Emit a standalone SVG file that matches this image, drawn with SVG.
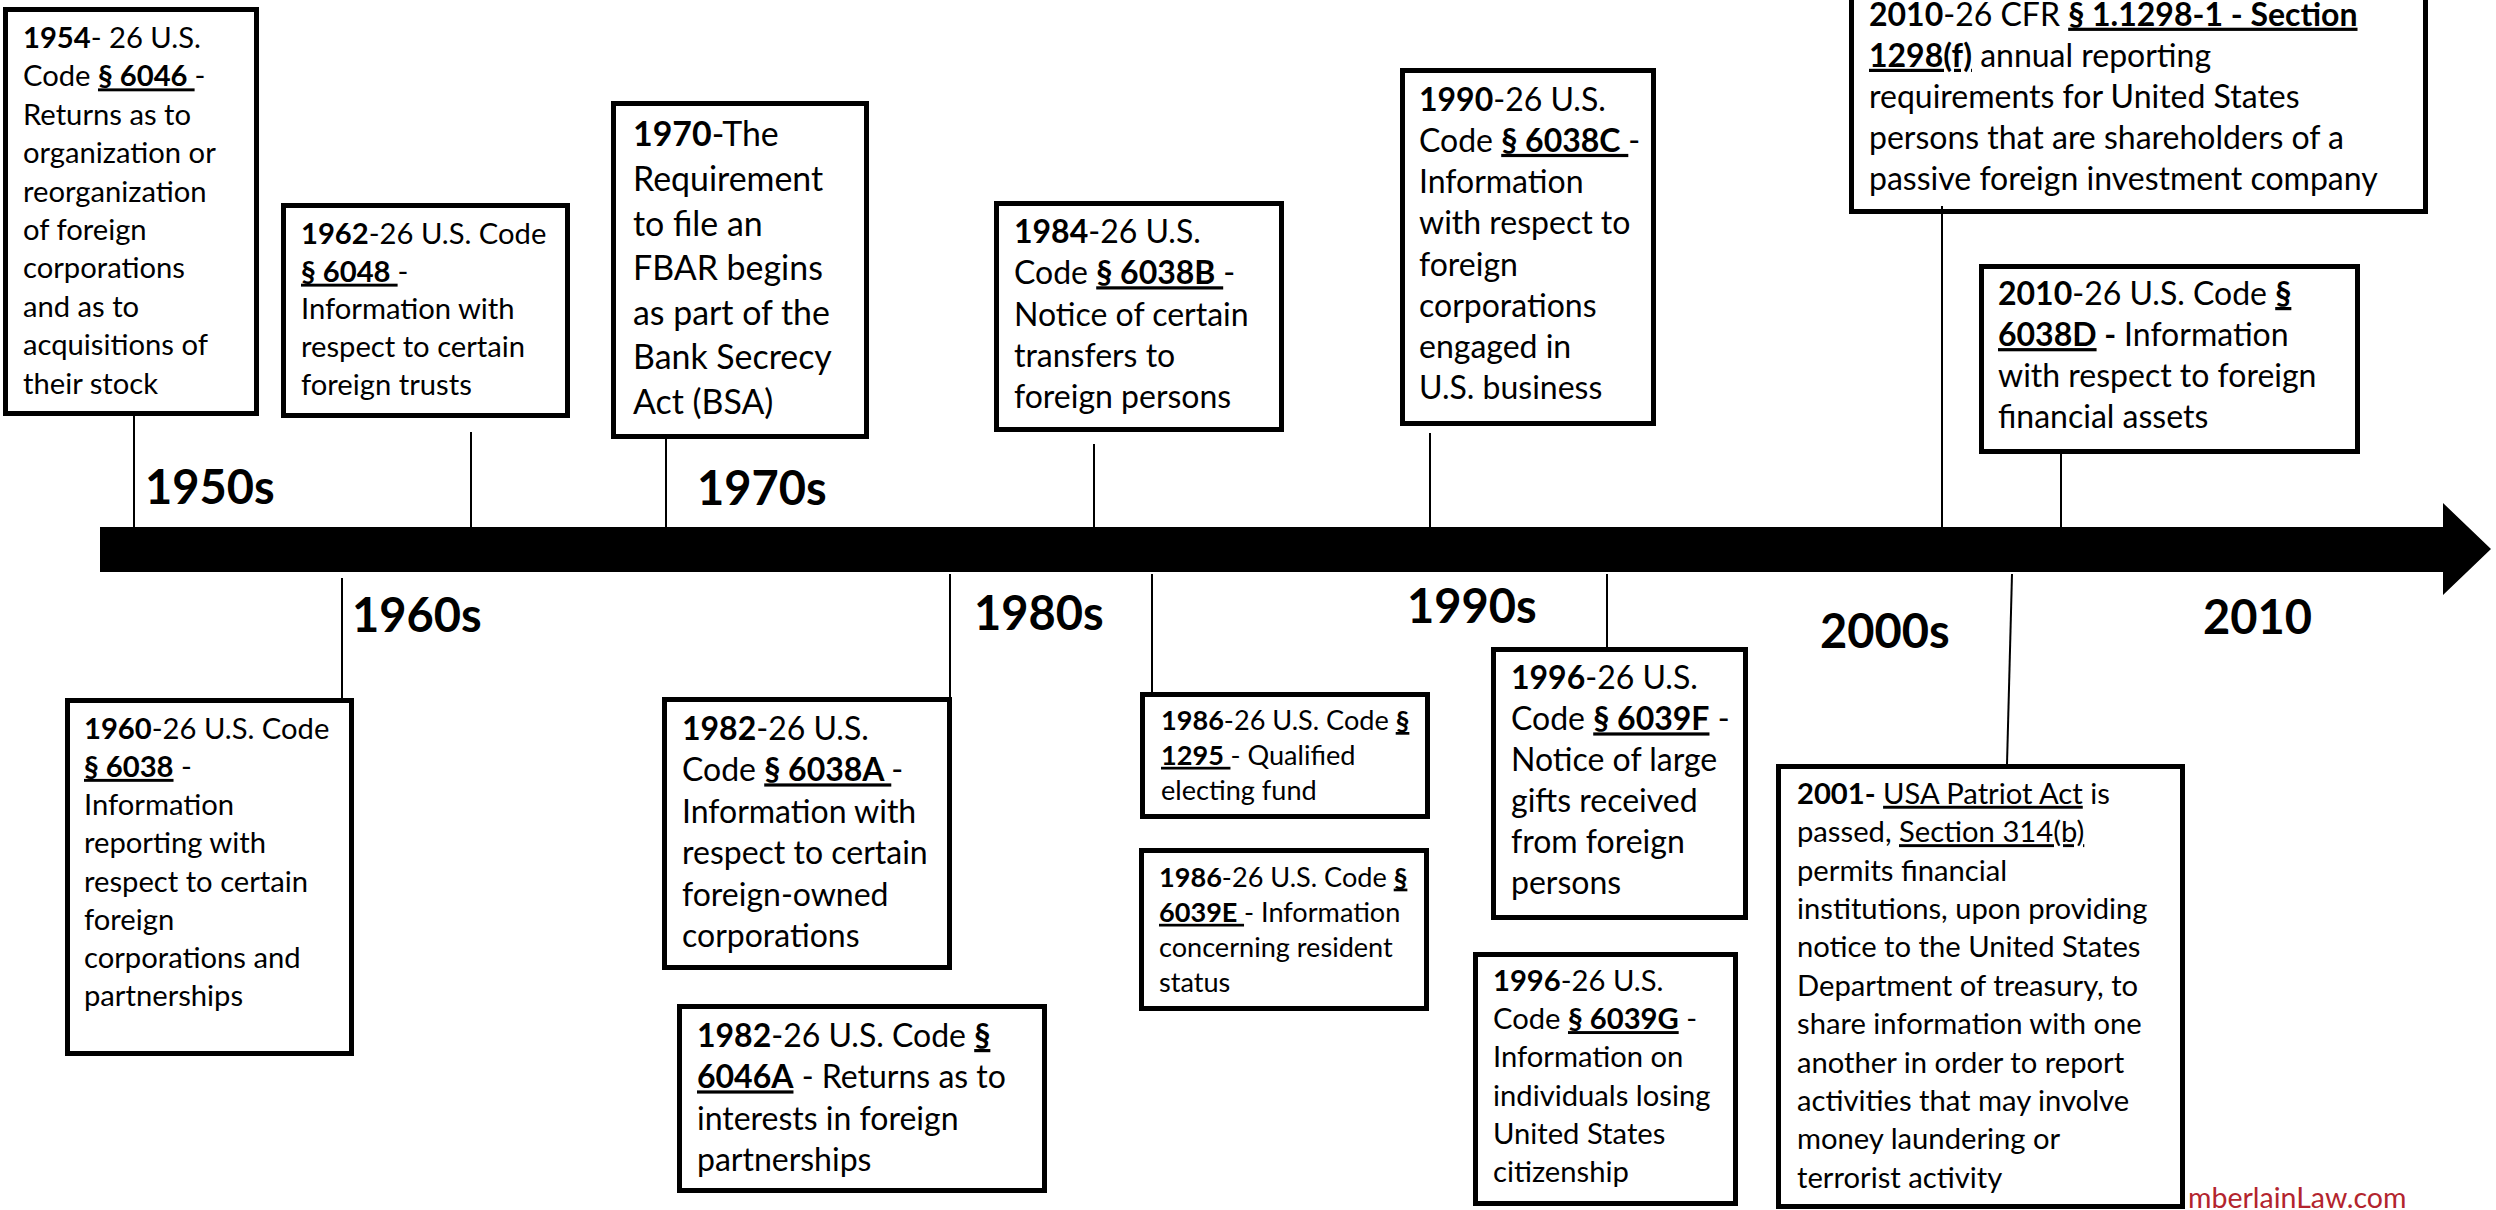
<svg xmlns="http://www.w3.org/2000/svg" width="2496" height="1210" viewBox="0 0 2496 1210">
<style>
.box{fill:#fff;stroke:#000;stroke-width:5}
text{font-family:Lato,"Liberation Sans",sans-serif;fill:#000}
.a{font-size:29.2px}
.bb{font-size:32px}
.c{font-size:33.9px}
.d{font-size:27.1px}
.b{font-weight:bold}
.u{text-decoration:underline}
.dec{font-size:47px;font-weight:bold}
.wm{font-size:28.5px;fill:#b3242e}
#connectors line{stroke:#000;stroke-width:2}
</style>
<rect width="2496" height="1210" fill="#fff"/>

<g id="n1954">
<rect class="box" x="5.5" y="9.5" width="251" height="404"/>
<text class="a" x="23" y="48"><tspan class="b">1954</tspan>- 26 U.S.</text>
<text class="a" x="23" y="86.4">Code <tspan class="b u">§ 6046 </tspan>-</text>
<text class="a" x="23" y="124.8">Returns as to</text>
<text class="a" x="23" y="163.2">organization or</text>
<text class="a" x="23" y="201.6">reorganization</text>
<text class="a" x="23" y="240">of foreign</text>
<text class="a" x="23" y="278.4">corporations</text>
<text class="a" x="23" y="316.8">and as to</text>
<text class="a" x="23" y="355.2">acquisitions of</text>
<text class="a" x="23" y="393.6">their stock</text>
</g>

<g id="n1962">
<rect class="box" x="283.5" y="205.5" width="284" height="210"/>
<text class="a" x="301" y="244"><tspan class="b">1962</tspan>-26 U.S. Code</text>
<text class="a" x="301" y="281.7"><tspan class="b u">§ 6048 </tspan>-</text>
<text class="a" x="301" y="319.4">Information with</text>
<text class="a" x="301" y="357.1">respect to certain</text>
<text class="a" x="301" y="394.8">foreign trusts</text>
</g>

<g id="n1970">
<rect class="box" x="613.5" y="103.5" width="253" height="333"/>
<text class="c" x="633" y="146.4"><tspan class="b">1970</tspan>-The</text>
<text class="c" x="633" y="191">Requirement</text>
<text class="c" x="633" y="235.6">to file an</text>
<text class="c" x="633" y="280.2">FBAR begins</text>
<text class="c" x="633" y="324.8">as part of the</text>
<text class="c" x="633" y="369.4">Bank Secrecy</text>
<text class="c" x="633" y="414">Act (BSA)</text>
</g>

<g id="n1984">
<rect class="box" x="996.5" y="203.5" width="285" height="226"/>
<text class="bb" x="1014" y="243"><tspan class="b">1984</tspan>-26 U.S.</text>
<text class="bb" x="1014" y="284.3">Code <tspan class="b u">§ 6038B </tspan>-</text>
<text class="bb" x="1014" y="325.6">Notice of certain</text>
<text class="bb" x="1014" y="366.9">transfers to</text>
<text class="bb" x="1014" y="408.2">foreign persons</text>
</g>

<g id="n1990">
<rect class="box" x="1402.5" y="70.5" width="251" height="353"/>
<text class="bb" x="1419" y="110.7"><tspan class="b">1990</tspan>-26 U.S.</text>
<text class="bb" x="1419" y="151.9">Code <tspan class="b u">§ 6038C </tspan>-</text>
<text class="bb" x="1419" y="193.1">Information</text>
<text class="bb" x="1419" y="234.3">with respect to</text>
<text class="bb" x="1419" y="275.5">foreign</text>
<text class="bb" x="1419" y="316.7">corporations</text>
<text class="bb" x="1419" y="357.9">engaged in</text>
<text class="bb" x="1419" y="399.1">U.S. business</text>
</g>

<g id="n2010cfr">
<rect class="box" x="1851.5" y="-8" width="574" height="219.5"/>
<text class="bb" x="1869" y="25.7"><tspan class="b">2010</tspan>-26 CFR <tspan class="b u">§ 1.1298-1 - Section</tspan></text>
<text class="bb" x="1869" y="66.8"><tspan class="b u">1298(f)</tspan> annual reporting</text>
<text class="bb" x="1869" y="107.9">requirements for United States</text>
<text class="bb" x="1869" y="149">persons that are shareholders of a</text>
<text class="bb" x="1869" y="190.1">passive foreign investment company</text>
</g>

<g id="n2010d">
<rect class="box" x="1981.5" y="266.5" width="376" height="185"/>
<text class="bb" x="1998" y="305"><tspan class="b">2010</tspan>-26 U.S. Code <tspan class="b u">§</tspan></text>
<text class="bb" x="1998" y="346.1"><tspan class="b u">6038D</tspan><tspan class="b"> - </tspan>Information</text>
<text class="bb" x="1998" y="387.2">with respect to foreign</text>
<text class="bb" x="1998" y="428.3">financial assets</text>
</g>

<g id="n1960">
<rect class="box" x="67.5" y="700.5" width="284" height="353"/>
<text class="a" x="84" y="738.7"><tspan class="b">1960</tspan>-26 U.S. Code</text>
<text class="a" x="84" y="776.9"><tspan class="b u">§ 6038</tspan> -</text>
<text class="a" x="84" y="815.1">Information</text>
<text class="a" x="84" y="853.3">reporting with</text>
<text class="a" x="84" y="891.5">respect to certain</text>
<text class="a" x="84" y="929.7">foreign</text>
<text class="a" x="84" y="967.9">corporations and</text>
<text class="a" x="84" y="1006.1">partnerships</text>
</g>

<g id="n1982a">
<rect class="box" x="664.5" y="699.5" width="285" height="268"/>
<text class="bb" x="682" y="740"><tspan class="b">1982</tspan>-26 U.S.</text>
<text class="bb" x="682" y="781.4">Code <tspan class="b u">§ 6038A </tspan>-</text>
<text class="bb" x="682" y="822.8">Information with</text>
<text class="bb" x="682" y="864.2">respect to certain</text>
<text class="bb" x="682" y="905.6">foreign-owned</text>
<text class="bb" x="682" y="947">corporations</text>
</g>

<g id="n1982b">
<rect class="box" x="679.5" y="1006.5" width="365" height="184"/>
<text class="bb" x="697" y="1047"><tspan class="b">1982</tspan>-26 U.S. Code <tspan class="b u">§</tspan></text>
<text class="bb" x="697" y="1088.4"><tspan class="b u">6046A</tspan> - Returns as to</text>
<text class="bb" x="697" y="1129.8">interests in foreign</text>
<text class="bb" x="697" y="1171.2">partnerships</text>
</g>

<g id="n1986a">
<rect class="box" x="1142.5" y="694.5" width="285" height="122"/>
<text class="d" x="1161" y="730"><tspan class="b">1986</tspan>-26 U.S. Code <tspan class="b u">§</tspan></text>
<text class="d" x="1161" y="764.8"><tspan class="b u">1295 </tspan>- Qualified</text>
<text class="d" x="1161" y="799.6">electing fund</text>
</g>

<g id="n1986b">
<rect class="box" x="1141.5" y="850.5" width="285" height="158"/>
<text class="d" x="1159" y="886.6"><tspan class="b">1986</tspan>-26 U.S. Code <tspan class="b u">§</tspan></text>
<text class="d" x="1159" y="921.8"><tspan class="b u">6039E </tspan>- Information</text>
<text class="d" x="1159" y="957">concerning resident</text>
<text class="d" x="1159" y="992.2">status</text>
</g>

<g id="n1996f">
<rect class="box" x="1493.5" y="649.5" width="252" height="268"/>
<text class="bb" x="1511" y="689.4"><tspan class="b">1996</tspan>-26 U.S.</text>
<text class="bb" x="1511" y="730.4">Code <tspan class="b u">§ 6039F</tspan> -</text>
<text class="bb" x="1511" y="771.4">Notice of large</text>
<text class="bb" x="1511" y="812.4">gifts received</text>
<text class="bb" x="1511" y="853.4">from foreign</text>
<text class="bb" x="1511" y="894.4">persons</text>
</g>

<g id="n1996g">
<rect class="box" x="1475.5" y="954.5" width="260" height="249"/>
<text class="a" x="1493" y="990.8"><tspan class="b">1996</tspan>-26 U.S.</text>
<text class="a" x="1493" y="1029.1">Code <tspan class="b u">§ 6039G</tspan> -</text>
<text class="a" x="1493" y="1067.4">Information on</text>
<text class="a" x="1493" y="1105.7">individuals losing</text>
<text class="a" x="1493" y="1144">United States</text>
<text class="a" x="1493" y="1182.3">citizenship</text>
</g>

<g id="n2001">
<rect class="box" x="1778.5" y="766.5" width="404" height="440"/>
<text class="a" x="1797" y="803.8"><tspan class="b">2001-</tspan> <tspan class="u">USA Patriot Act</tspan> is</text>
<text class="a" x="1797" y="842.2">passed, <tspan class="u">Section 314(b)</tspan></text>
<text class="a" x="1797" y="880.6">permits financial</text>
<text class="a" x="1797" y="919">institutions, upon providing</text>
<text class="a" x="1797" y="957.4">notice to the United States</text>
<text class="a" x="1797" y="995.8">Department of treasury, to</text>
<text class="a" x="1797" y="1034.2">share information with one</text>
<text class="a" x="1797" y="1072.6">another in order to report</text>
<text class="a" x="1797" y="1111">activities that may involve</text>
<text class="a" x="1797" y="1149.4">money laundering or</text>
<text class="a" x="1797" y="1187.8">terrorist activity</text>
</g>

<g id="connectors">
<line x1="134" y1="416" x2="134" y2="528"/>
<line x1="471" y1="432" x2="471" y2="528"/>
<line x1="666" y1="439" x2="666" y2="528"/>
<line x1="1094" y1="444" x2="1094" y2="528"/>
<line x1="1430" y1="433" x2="1430" y2="528"/>
<line x1="1942" y1="206" x2="1942" y2="528"/>
<line x1="2061" y1="454" x2="2061" y2="528"/>
<line x1="342" y1="578" x2="342" y2="698"/>
<line x1="950" y1="574" x2="950" y2="697"/>
<line x1="1152" y1="574" x2="1152" y2="692"/>
<line x1="1607" y1="574" x2="1607" y2="647"/>
<line x1="2012" y1="574" x2="2007" y2="764"/>
</g>

<g id="timeline">
<polygon points="100,527 2443,527 2443,503 2491,549 2443,595 2443,572 100,572" fill="#000"/>
</g>

<g id="decades">
<text class="dec" x="145" y="504">1950s</text>
<text class="dec" x="352" y="632">1960s</text>
<text class="dec" x="697" y="505">1970s</text>
<text class="dec" x="974" y="630">1980s</text>
<text class="dec" x="1407" y="623">1990s</text>
<text class="dec" x="1820" y="648">2000s</text>
<text class="dec" x="2203" y="634">2010</text>
</g>

<text class="wm" x="2188" y="1208">mberlainLaw.com</text>
</svg>
